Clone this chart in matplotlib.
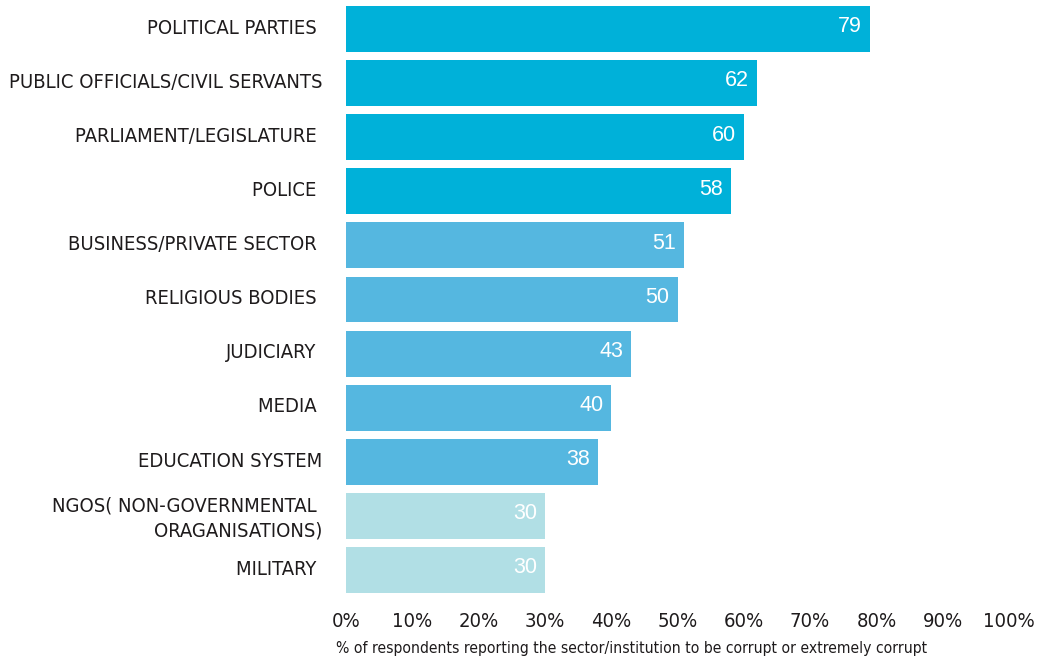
import matplotlib.pyplot as plt
import numpy as np

categories = [
    'POLITICAL PARTIES ',
    'PUBLIC OFFICIALS/CIVIL SERVANTS',
    'PARLIAMENT/LEGISLATURE ',
    'POLICE ',
    'BUSINESS/PRIVATE SECTOR ',
    'RELIGIOUS BODIES ',
    'JUDICIARY ',
    'MEDIA ',
    'EDUCATION SYSTEM',
    'NGOS( NON-GOVERNMENTAL \nORAGANISATIONS)',
    'MILITARY ',
]
values = [79, 62, 60, 58, 51, 50, 43, 40, 38, 30, 30]
groups = [0, 0, 0, 0, 1, 1, 1, 1, 1, 2, 2]
group_colors = ['#00B1D9', '#55B7E0', '#B1DFE5']
tick_values = [0, 10, 20, 30, 40, 50, 60, 70, 80, 90, 100]
xlabel = '% of respondents reporting the sector/institution to be corrupt or extremely corrupt'

label_font = dict(family='DejaVu Sans', stretch='condensed')
value_font = ['Liberation Sans', 'DejaVu Sans']
text_color = '#1E1B1C'

W, H = 1041, 661
fig = plt.figure(figsize=(W / 100, H / 100), dpi=100)
ax = fig.add_axes([346 / W, 1 - 597 / H, (1009 - 346) / W, (597 - 2) / H])

y = np.arange(len(categories))
colors = [group_colors[g] for g in groups]
ax.barh(y, values, height=0.85, color=colors, edgecolor='none')

for yi, v in zip(y, values):
    ax.text(v - 1.2, yi - 0.04, str(v), ha='right', va='center', color='white',
            fontsize=15.5, family=value_font, weight='medium')

ax.set_xlim(0, 100)
ax.set_ylim(len(categories) - 0.5, -0.5)
ax.set_yticks(y - 0.05)
ax.set_yticklabels(categories, fontsize=14.5, color=text_color,
                   ha='right', multialignment='right', linespacing=1.4,
                   **label_font)
ax.tick_params(axis='y', length=0, pad=17)
ax.set_xticks(tick_values)
ax.set_xticklabels([f'{t}%' for t in tick_values], fontsize=14.5,
                   color=text_color, **label_font)
ax.tick_params(axis='x', length=0, pad=11)
for s in ax.spines.values():
    s.set_visible(False)

fig.text(336 / W, 1 - 649 / H, xlabel, fontsize=11.25,
         color=text_color, ha='left', va='center', **label_font)

fig.savefig('out.png', dpi=100)
